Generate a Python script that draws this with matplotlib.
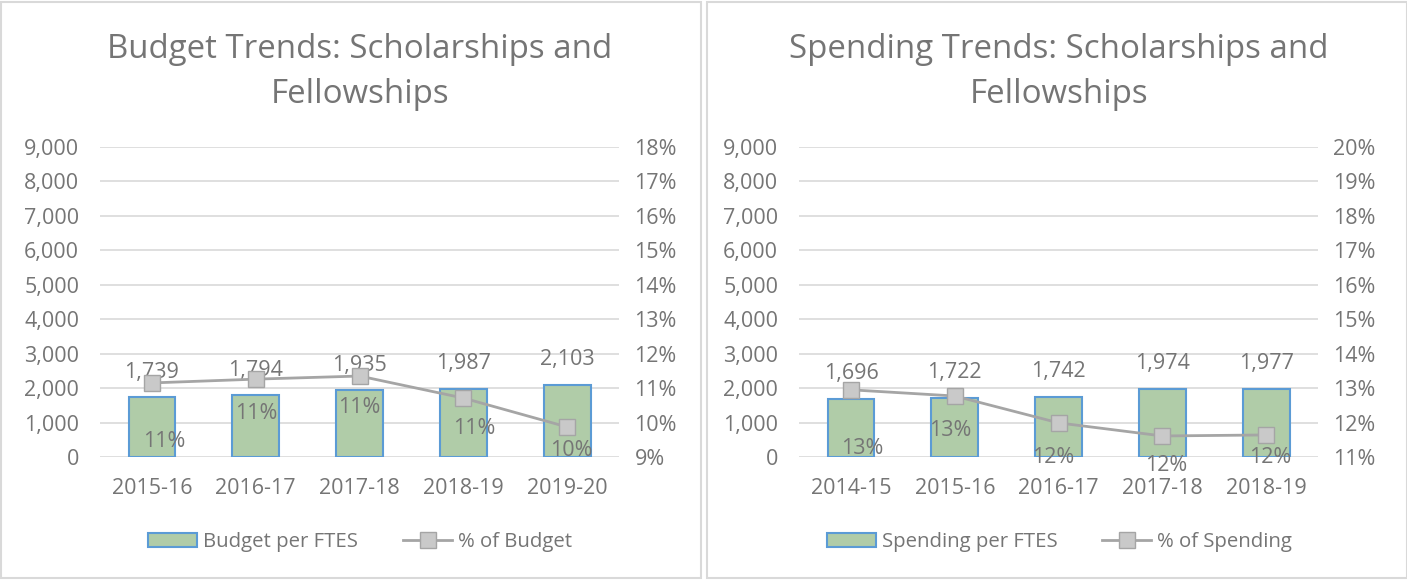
import matplotlib.pyplot as plt
from matplotlib.patches import Rectangle, Patch
from matplotlib.lines import Line2D
from matplotlib.ticker import FuncFormatter

plt.rcParams['font.family'] = ['Open Sans', 'DejaVu Sans']

budget_years = ['2015-16', '2016-17', '2017-18', '2018-19', '2019-20']
budget_per_ftes = [1739, 1794, 1935, 1987, 2103]
budget_pct = [11.15, 11.26, 11.35, 10.71, 9.87]

spend_years = ['2014-15', '2015-16', '2016-17', '2017-18', '2018-19']
spend_per_ftes = [1696, 1722, 1742, 1974, 1977]
spend_pct = [12.95, 12.77, 11.99, 11.61, 11.64]

GRAY_TXT = '#757575'
GRID = '#D9D9D9'
BAR_FILL = '#B0CCA8'
BAR_EDGE = '#5B9BD5'
LINE = '#A5A5A5'
MARK = '#C9C9C9'

fig = plt.figure(figsize=(14.07, 5.8), dpi=100)

# panel borders
for x0 in (0.001, 0.5025):
    fig.patches.append(Rectangle((x0, 0.003), 0.4975, 0.994, transform=fig.transFigure,
                                 fill=False, edgecolor=GRID, lw=1.5))


def panel(left, title, years, vals, pct, pct_lim, bar_name, line_name, pct_offsets, legend_x):
    ax = fig.add_axes([left, 0.2121, 0.369, 0.5345])
    x = range(len(years))
    ax.set_ylim(0, 9000)
    ax.set_xlim(-0.5, len(years) - 0.5)
    ax.set_yticks(range(0, 9001, 1000))
    ax.yaxis.set_major_formatter(FuncFormatter(lambda v, p: f'{int(v):,}'))
    ax.grid(axis='y', color=GRID, lw=1.2)
    ax.set_axisbelow(True)
    ax.bar(x, vals, width=0.45, color=BAR_FILL, edgecolor=BAR_EDGE, lw=1.5, zorder=2)
    for i, v in enumerate(vals):
        ax.annotate(f'{v:,}', (i, v), xytext=(0, 18), textcoords='offset points',
                    ha='center', va='center', fontsize=15.5, color=GRAY_TXT)
    ax.set_xticks(list(x))
    ax.set_xticklabels(years)
    for s in ax.spines.values():
        s.set_visible(False)
    ax.tick_params(length=0, labelsize=15.5, colors=GRAY_TXT)
    ax.tick_params(axis='x', pad=15)
    ax.tick_params(axis='y', pad=15)

    ax2 = ax.twinx()
    ax2.set_ylim(*pct_lim)
    ax2.set_yticks(range(pct_lim[0], pct_lim[1] + 1))
    ax2.yaxis.set_major_formatter(FuncFormatter(lambda v, p: f'{int(v)}%'))
    for s in ax2.spines.values():
        s.set_visible(False)
    ax2.tick_params(length=0, labelsize=15.5, colors=GRAY_TXT, pad=11)
    ax2.plot(list(x), pct, color=LINE, lw=2, marker='s', markersize=11,
             markerfacecolor=MARK, markeredgecolor=LINE, markeredgewidth=1, zorder=3)
    for i, v in enumerate(pct):
        dx, dy = pct_offsets[i]
        ax2.annotate(f'{round(v):d}%', (i, v), xytext=(dx, -dy), textcoords='offset points',
                     ha='center', va='center', fontsize=15.5, color=GRAY_TXT)

    cx = left + 0.369 / 2
    fig.text(cx, 0.876, title, ha='center', va='center', fontsize=23.8, color=GRAY_TXT,
             linespacing=1.45)

    handles = [Patch(facecolor=BAR_FILL, edgecolor=BAR_EDGE, lw=1.5),
               Line2D([0], [0], color=LINE, lw=2, marker='s', markersize=11,
                      markerfacecolor=MARK, markeredgecolor=LINE)]
    fig.legend(handles, [bar_name, line_name], loc='center', bbox_to_anchor=(legend_x, 0.065),
               ncol=2, frameon=False, fontsize=14.7, labelcolor=GRAY_TXT,
               handlelength=2.4, handletextpad=0.3, columnspacing=2.2)
    return ax


panel(0.0711, 'Budget Trends: Scholarships and\nFellowships', budget_years, budget_per_ftes,
      budget_pct, (9, 18), 'Budget per FTES', '% of Budget',
      [(9, 42), (0, 25), (0, 23), (8, 22), (3, 17)], 0.256)
panel(0.5679, 'Spending Trends: Scholarships and\nFellowships', spend_years, spend_per_ftes,
      spend_pct, (11, 20), 'Spending per FTES', '% of Spending',
      [(8, 42), (-3, 25), (-4, 25), (3, 21), (3, 16)], 0.753)

fig.savefig('out.png', dpi=100)
